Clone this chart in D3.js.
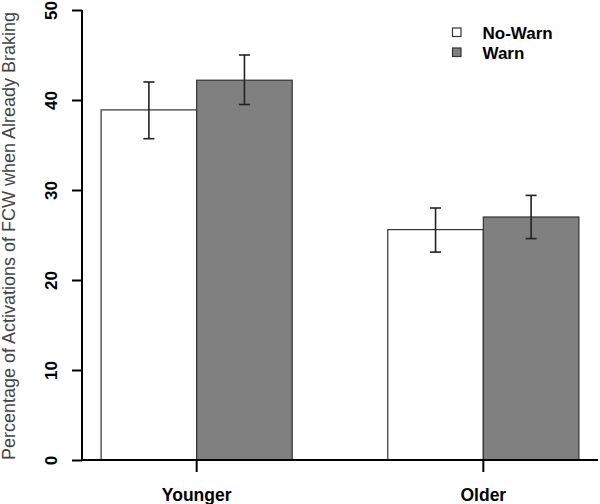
<!DOCTYPE html>
<html>
<head>
<meta charset="utf-8">
<script src="https://cdn.jsdelivr.net/npm/d3@7"></script>
<style>
  html, body { margin: 0; padding: 0; background: #fff; }
  svg { display: block; font-family: "Liberation Sans", Arial, sans-serif; }
</style>
</head>
<body>
<svg id="chart" width="600" height="504"></svg>
<script>
// ---- data ----
const categories = ["Younger", "Older"];
const seriesNames = ["No-Warn", "Warn"];
const noWarnValues = [38.9, 25.6];
const warnValues = [42.2, 27.0];
const noWarnLower = [35.7, 23.1];
const noWarnUpper = [42.0, 28.0];
const warnLower = [39.5, 24.6];
const warnUpper = [45.0, 29.4];
const yTicks = [0, 10, 20, 30, 40, 50];
const yTitle = "Percentage of Activations of FCW when Already Braking";

const seriesFill = ["#ffffff", "#808080"];

const svg = d3.select("#chart");

// R barplot-style unit coordinates: space between groups = 1 bar width
const x = d3.scaleLinear().domain([0.8, 6.2]).range([82, 598]);
const y = d3.scaleLinear().domain([0, 50]).range([460, 10]);

const values = [noWarnValues, warnValues];
const lowers = [noWarnLower, warnLower];
const uppers = [noWarnUpper, warnUpper];

const bars = [];
categories.forEach((c, gi) => {
  seriesNames.forEach((s, si) => {
    bars.push({
      cat: c, series: si,
      left: 1 + gi * 3 + si,
      value: values[si][gi],
      lo: lowers[si][gi],
      hi: uppers[si][gi]
    });
  });
});

// bars
svg.append("g").selectAll("rect").data(bars).join("rect")
  .attr("x", d => x(d.left))
  .attr("y", d => y(d.value))
  .attr("width", d => x(d.left + 1) - x(d.left))
  .attr("height", d => y(0) - y(d.value))
  .attr("fill", d => seriesFill[d.series])
  .attr("stroke", "#333")
  .attr("stroke-width", 1.2);

// error bars
const eb = svg.append("g").attr("stroke", "#222").attr("stroke-width", 1.6);
bars.forEach(d => {
  const cx = x(d.left + 0.5);
  eb.append("line").attr("x1", cx).attr("x2", cx).attr("y1", y(d.lo)).attr("y2", y(d.hi));
  eb.append("line").attr("x1", cx - 5.5).attr("x2", cx + 5.5).attr("y1", y(d.lo)).attr("y2", y(d.lo));
  eb.append("line").attr("x1", cx - 5.5).attr("x2", cx + 5.5).attr("y1", y(d.hi)).attr("y2", y(d.hi));
});

// y axis
const yAxis = svg.append("g").attr("transform", "translate(82,0)")
  .call(d3.axisLeft(y).tickValues(yTicks).tickSize(10).tickSizeOuter(0).tickFormat(d3.format("d")));
yAxis.select(".domain").attr("stroke", "#000").attr("stroke-width", 2).attr("d", `M0,${y(50)}V${y(0)}`);
yAxis.selectAll(".tick line").attr("stroke", "#000").attr("stroke-width", 2);
yAxis.selectAll(".tick text")
  .attr("x", null).attr("dy", null)
  .attr("transform", "translate(-25.3,0) rotate(-90)")
  .attr("text-anchor", "middle")
  .attr("fill", "#000")
  .style("font-size", "17px").style("font-weight", "bold")
  .style("font-family", "'Liberation Sans', Arial, sans-serif");

// x axis
const xAxis = svg.append("g").attr("transform", `translate(0,${y(0)})`);
xAxis.append("line").attr("x1", 82).attr("x2", 598).attr("y1", 0).attr("y2", 0)
  .attr("stroke", "#000").attr("stroke-width", 2);
categories.forEach((c, gi) => {
  const cx = x(1 + gi * 3 + 1);
  xAxis.append("line").attr("x1", cx).attr("x2", cx).attr("y1", 0).attr("y2", 12)
    .attr("stroke", "#000").attr("stroke-width", 2);
  xAxis.append("text").attr("x", cx).attr("y", 40.5)
    .attr("text-anchor", "middle")
    .style("font-size", "17.5px").style("font-weight", "bold")
    .text(c);
});

// y title
svg.append("text")
  .attr("transform", `translate(14.5,${(y(0) + 10) / 2 + 1}) rotate(-90)`)
  .attr("text-anchor", "middle")
  .attr("fill", "#444")
  .style("font-size", "18px")
  .text(yTitle);

// legend
const legend = svg.append("g");
seriesNames.forEach((s, i) => {
  const yy = 28 + i * 20;
  legend.append("rect").attr("x", 452.5).attr("y", yy).attr("width", 8.5).attr("height", 8.5)
    .attr("fill", seriesFill[i]).attr("stroke", "#333").attr("stroke-width", 1.2);
  legend.append("text").attr("x", 482.5).attr("y", yy + 11.3)
    .style("font-size", "17px").style("font-weight", "bold")
    .text(s);
});
</script>
</body>
</html>
